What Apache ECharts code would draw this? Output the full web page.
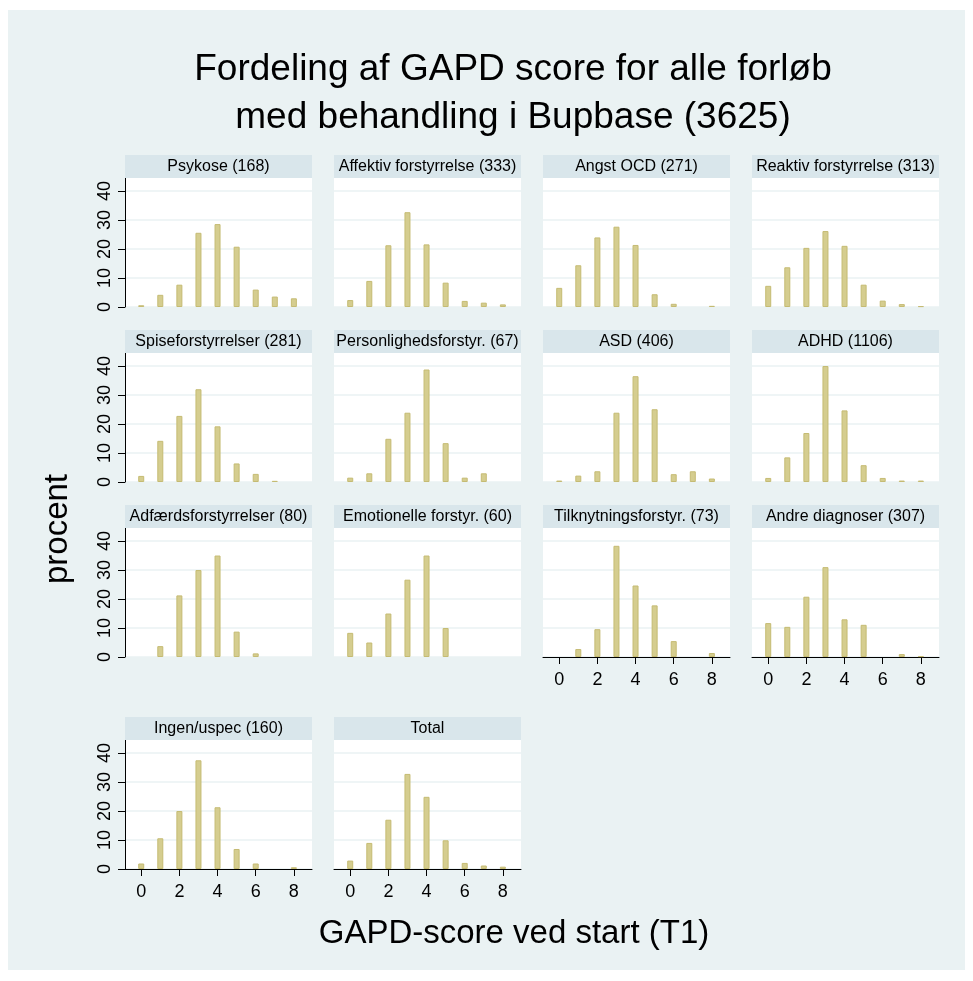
<!DOCTYPE html>
<html>
<head>
<meta charset="utf-8">
<script src="https://cdn.jsdelivr.net/npm/echarts@6/dist/echarts.min.js"></script>
<style>
html,body{margin:0;padding:0;background:#fff;}
#chart{width:973px;height:981px;}
</style>
</head>
<body>
<div id="chart"></div>
<script>
// ---- data ----
const scores = [0, 1, 2, 3, 4, 5, 6, 7, 8];
const xTickLabels = [0, 2, 4, 6, 8];
const yTickLabels = [0, 10, 20, 30, 40];
const panelTitles = [
  'Psykose (168)', 'Affektiv forstyrrelse (333)', 'Angst OCD (271)', 'Reaktiv forstyrrelse (313)',
  'Spiseforstyrrelser (281)', 'Personlighedsforstyr. (67)', 'ASD (406)', 'ADHD (1106)',
  'Adfærdsforstyrrelser (80)', 'Emotionelle forstyr. (60)', 'Tilknytningsforstyr. (73)', 'Andre diagnoser (307)',
  'Ingen/uspec (160)', 'Total'
];
const psykose       = [0.6, 4.2, 7.7, 25.6, 28.6, 20.8, 6.0, 3.6, 3.0];
const affektiv      = [2.4, 9.0, 21.3, 32.7, 21.6, 8.4, 2.1, 1.5, 0.9];
const angst         = [6.6, 14.4, 24.0, 27.7, 21.4, 4.4, 1.1, 0, 0.4];
const reaktiv       = [7.3, 13.7, 20.4, 26.2, 21.1, 7.7, 2.2, 1.0, 0.3];
const spise         = [2.1, 14.2, 22.8, 32.0, 19.2, 6.4, 2.8, 0.4, 0];
const personlighed  = [1.5, 3.0, 14.9, 23.9, 38.8, 13.4, 1.5, 3.0, 0];
const asd           = [0.5, 2.2, 3.7, 23.9, 36.5, 25.1, 2.7, 3.7, 1.2];
const adhd          = [1.4, 8.5, 16.9, 40.0, 24.7, 5.8, 1.4, 0.5, 0.5];
const adfaerd       = [0, 3.75, 21.25, 30.0, 35.0, 8.75, 1.25, 0, 0];
const emotionelle   = [8.33, 5.0, 15.0, 26.67, 35.0, 10.0, 0, 0, 0];
const tilknytning   = [0, 2.74, 9.59, 38.36, 24.66, 17.81, 5.48, 0, 1.37];
const andre         = [11.7, 10.4, 20.8, 31.0, 13.0, 11.1, 0, 1.0, 0.3];
const ingen         = [1.9, 10.6, 20.0, 37.5, 21.3, 6.9, 1.9, 0, 0.6];
const total         = [2.9, 9.0, 17.0, 32.8, 24.9, 9.9, 2.1, 1.2, 0.8];
const panelValues = [psykose, affektiv, angst, reaktiv, spise, personlighed, asd, adhd,
                     adfaerd, emotionelle, tilknytning, andre, ingen, total];
const mainTitle = 'Fordeling af GAPD score for alle forløb\nmed behandling i Bupbase (3625)';
const yTitle = 'procent';
const xTitle = 'GAPD-score ved start (T1)';

// ---- layout ----
const FONT = '"Liberation Sans", Arial, Helvetica, sans-serif';
const colLeft = [125, 334, 543, 752];
const stripTop = [155, 330, 505, 717];
const panelW = 187, stripH = 23, plotH = 129;
const xAxisPanels = [10, 11, 12, 13];

const grids = [], xAxes = [], yAxes = [], series = [], graphics = [];

graphics.push({type: 'rect', shape: {x: 8, y: 10, width: 957, height: 960}, style: {fill: '#eaf2f3'}, z: -10, silent: true});

panelTitles.forEach((name, i) => {
  const r = Math.floor(i / 4), c = i % 4;
  const left = colLeft[c], top = stripTop[r] + stripH;
  grids.push({left: left, top: top, width: panelW, height: plotH, show: true,
    backgroundColor: '#ffffff', borderWidth: 0, containLabel: false, outerBoundsMode: 'none'});
  const showX = xAxisPanels.indexOf(i) >= 0;
  const showY = c === 0;
  xAxes.push({
    gridIndex: i, type: 'value', min: -0.85, max: 8.95,
    axisLine: {show: showX, onZero: false, lineStyle: {color: '#000', width: 1}},
    axisTick: {show: showX, length: 7, customValues: xTickLabels, lineStyle: {color: '#000', width: 1}},
    axisLabel: {show: showX, customValues: xTickLabels, fontSize: 18, color: '#000', fontFamily: FONT, margin: 14},
    splitLine: {show: false}
  });
  yAxes.push({
    gridIndex: i, type: 'value', min: 0, max: 44.5,
    axisLine: {show: showY, onZero: false, lineStyle: {color: '#000', width: 1}},
    axisTick: {show: showY, length: 7, customValues: yTickLabels, lineStyle: {color: '#000', width: 1}},
    axisLabel: {show: showY, customValues: yTickLabels, rotate: 90, fontSize: 18, color: '#000', fontFamily: FONT, margin: 11},
    splitLine: {show: true, lineStyle: {color: '#eaf2f3', width: 1.5}}
  });
  const vals = panelValues[i];
  series.push({
    type: 'bar', xAxisIndex: i, yAxisIndex: i, barWidth: 6, silent: true,
    data: scores.map((s, k) => [s, vals[k]]).filter(d => d[1] > 0),
    itemStyle: {color: '#d5cd8f', borderColor: '#c5bb73', borderWidth: 1}
  });
  graphics.push({type: 'rect', shape: {x: left, y: stripTop[r], width: panelW, height: stripH},
    style: {fill: '#d9e6eb'}, silent: true, z: 1});
  graphics.push({type: 'text', x: left + panelW / 2, y: stripTop[r] + stripH / 2 + 0.5, silent: true, z: 2,
    style: {text: name, fill: '#000', font: '16px ' + FONT, textAlign: 'center', textVerticalAlign: 'middle'}});
});

graphics.push({type: 'text', x: 513, y: 94, silent: true, z: 2,
  style: {text: mainTitle, fill: '#000', font: '37px ' + FONT, lineHeight: 48, textAlign: 'center', textVerticalAlign: 'middle'}});
graphics.push({type: 'text', x: 514, y: 934, silent: true, z: 2,
  style: {text: xTitle, fill: '#000', font: '33px ' + FONT, textAlign: 'center', textVerticalAlign: 'middle'}});
graphics.push({type: 'text', x: 58, y: 529, rotation: Math.PI / 2, silent: true, z: 2,
  style: {text: yTitle, fill: '#000', font: '33px ' + FONT, textAlign: 'center', textVerticalAlign: 'middle'}});

const chart = echarts.init(document.getElementById('chart'), null, {renderer: 'canvas'});
chart.setOption({
  animation: false,
  backgroundColor: '#ffffff',
  grid: grids, xAxis: xAxes, yAxis: yAxes, series: series,
  graphic: {elements: graphics}
});
</script>
</body>
</html>
